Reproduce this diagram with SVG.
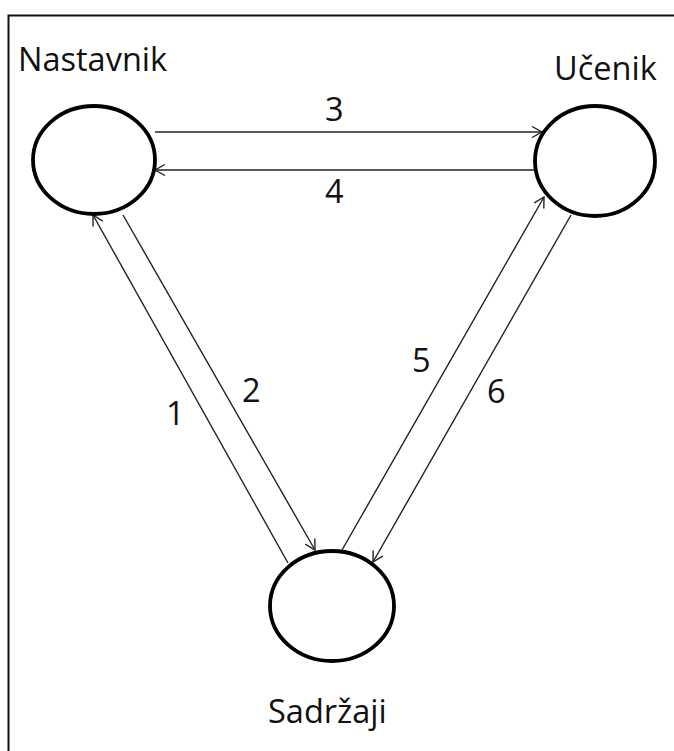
<svg xmlns="http://www.w3.org/2000/svg" width="674" height="751" viewBox="0 0 674 751">
  <style>
    .node { fill: #ffffff; stroke: #000000; stroke-width: 3.8; }
    .lbl { font-family: "Open Sans", "Noto Sans", "Liberation Sans", sans-serif; font-size: 32.5px; fill: #111111; }
    .edge { stroke: #222222; stroke-width: 1.4; fill: none; marker-end: url(#arr); }
  </style>
  <defs>
    <marker id="arr" markerUnits="userSpaceOnUse" markerWidth="14" markerHeight="14" refX="11" refY="6" orient="auto" viewBox="0 0 14 12">
      <path d="M1,0.5 L11,6 L1,11.5" fill="none" stroke="#222222" stroke-width="1.4"/>
    </marker>
  </defs>
  <rect x="0" y="0" width="674" height="751" fill="#ffffff"/>
  <path d="M8.5,751 L8.5,15.5 L674,15.5" fill="none" stroke="#111111" stroke-width="2"/>

  <g id="connectors">
    <line class="edge" x1="288" y1="563" x2="93" y2="215"/>
    <line class="edge" x1="123" y1="215" x2="315" y2="550"/>
    <line class="edge" x1="155" y1="132" x2="542" y2="132"/>
    <line class="edge" x1="534" y1="170" x2="155" y2="170"/>
    <line class="edge" x1="342" y1="550" x2="544" y2="197"/>
    <line class="edge" x1="571" y1="215" x2="373" y2="562"/>
    <text class="lbl" x="325" y="121">3</text>
    <text class="lbl" x="325" y="203">4</text>
    <text class="lbl" x="166" y="425">1</text>
    <text class="lbl" x="242" y="402">2</text>
    <text class="lbl" x="412" y="372">5</text>
    <text class="lbl" x="487" y="403">6</text>
  </g>

  <g id="nastavnik">
    <ellipse class="node" cx="94" cy="160" rx="61" ry="54"/>
    <text class="lbl" x="18" y="71">Nastavnik</text>
  </g>
  <g id="ucenik">
    <ellipse class="node" cx="595" cy="161" rx="60" ry="55"/>
    <text class="lbl" x="554" y="80">Učenik</text>
  </g>
  <g id="sadrzaji">
    <ellipse class="node" cx="332" cy="606" rx="62" ry="55"/>
    <text class="lbl" x="268" y="723">Sadržaji</text>
  </g>
</svg>
